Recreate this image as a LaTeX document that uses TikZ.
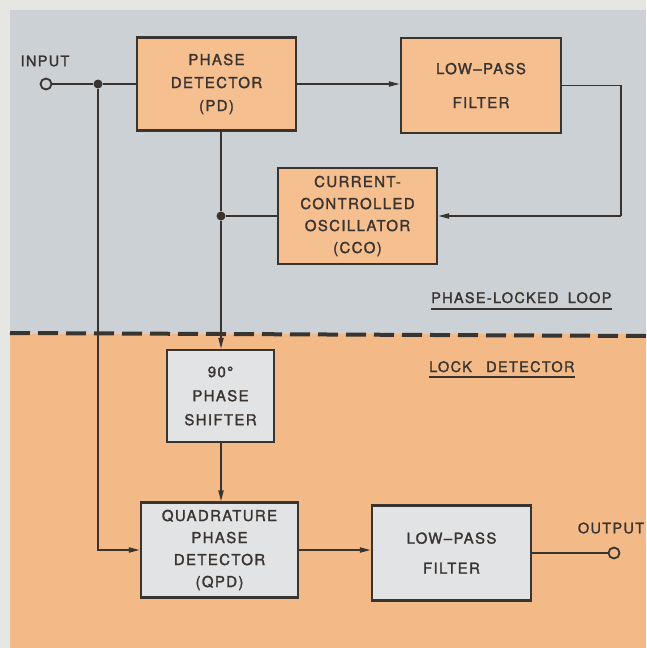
\documentclass[tikz,border=0pt]{standalone}
\usepackage{fontspec}
\setmainfont{TeX Gyre Heros}[LetterSpace=9.0, FakeBold=1.6]
\usetikzlibrary{arrows.meta}
\definecolor{paper}{HTML}{E6E6E3}
\definecolor{pllbg}{HTML}{CBD1D5}
\definecolor{lockbg}{HTML}{F3B986}
\definecolor{obox}{HTML}{F6BF90}
\definecolor{gbox}{HTML}{E2E3E4}
\definecolor{ink}{HTML}{3A3431}
\tikzset{
  blk/.style={draw=ink, line width=2.2pt, inner sep=0pt, align=center, text=ink,
    font=\fontsize{15}{23}\selectfont},
  oblk/.style={blk, fill=obox},
  gblk/.style={blk, fill=gbox},
  wire/.style={draw=ink, line width=1.8pt},
  arr/.style={wire, -{Triangle[length=11pt,width=5pt]}},
  dot/.style={circle, fill=ink, inner sep=0pt, minimum size=9pt},
  term/.style={circle, draw=ink, line width=1.8pt, inner sep=0pt, minimum size=11pt},
  lbl/.style={text=ink, inner sep=0pt, font=\fontsize{14.5}{16}\selectfont}
}
\begin{document}
\begin{tikzpicture}[x=1pt,y=-1pt]
\useasboundingbox (0,0) rectangle (646,648);
\fill[paper] (0,0) rectangle (646,648);
\fill[pllbg] (10,10) rectangle (646,334);
\fill[lockbg] (10,334) rectangle (646,648);
\draw[draw=ink, line width=4pt, dash pattern=on 20pt off 8pt] (10,333) -- (646,336);

% blocks
\node[oblk, minimum width=159pt, minimum height=93pt] (pd) at (216.5,84) {PHASE\\DETECTOR\\(PD)};
\node[oblk, minimum width=160pt, minimum height=95pt, font=\fontsize{15}{34}\selectfont] (lpf1) at (481,85.5) {LOW--PASS\\FILTER};
\node[oblk, minimum width=159pt, minimum height=96pt, font=\fontsize{15}{22}\selectfont] (cco) at (357.5,216) {CURRENT-\\CONTROLLED\\OSCILLATOR\\(CCO)};
\node[gblk, minimum width=107pt, minimum height=92pt, font=\fontsize{15}{24}\selectfont] (shift) at (220.5,396) {90°\\PHASE\\SHIFTER};
\node[gblk, minimum width=157pt, minimum height=95pt, font=\fontsize{15}{22}\selectfont] (qpd) at (219.5,550) {QUADRATURE\\PHASE\\DETECTOR\\(QPD)};
\node[gblk, minimum width=159pt, minimum height=95pt, font=\fontsize{15}{30}\selectfont] (lpf2) at (451.5,553) {LOW--PASS\\FILTER};

% terminals and labels
\node[term, fill=pllbg] (in) at (46,84) {};
\node[lbl] (inlbl) at (45,61) {INPUT};
\node[term, fill=lockbg] (out) at (614,553) {};
\node[lbl] (outlbl) at (611,528) {OUTPUT};
\node[lbl, anchor=base west] (plllbl) at (431,303) {PHASE-LOCKED\hspace{4pt} LOOP};
\draw[wire] ([yshift=-6pt]plllbl.base west) -- ([yshift=-6pt]plllbl.base east);
\node[lbl, anchor=base west] (locklbl) at (429,372) {LOCK\hspace{9pt} DETECTOR\hspace{3pt}};
\draw[wire] ([yshift=-5pt]locklbl.base west) -- ([yshift=-5pt]locklbl.base east);

% junctions
\node[dot] (j1) at (98,84) {};
\node[dot] (j2) at (221,216) {};
\coordinate (rr) at (621,216);

% connectors
\draw[wire] (in) -- (j1) -- (pd.west);
\draw[arr] (j1) |- (qpd.west);
\draw[arr] (pd.east) -- (lpf1.west |- pd.east);
\draw[wire] (lpf1.east) -| (rr);
\draw[arr] (rr) -- (cco.east);
\draw[wire] (pd.south -| j2) -- (j2);
\draw[wire] (cco.west) -- (j2);
\draw[arr] (j2) -- (shift.north -| j2);
\draw[arr] (shift.south -| j2) -- (qpd.north -| j2);
\draw[arr] (qpd.east) -- (lpf2.west |- qpd.east);
\draw[wire] (lpf2.east |- out) -- (out);
\end{tikzpicture}
\end{document}
